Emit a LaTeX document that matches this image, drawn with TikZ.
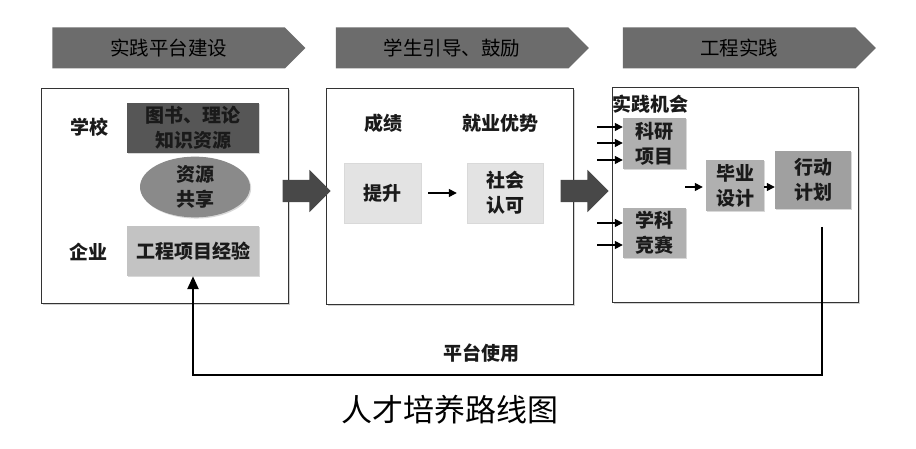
\documentclass[tikz,border=0pt]{standalone}
\usepackage{fontspec}
\setmainfont{Noto Sans CJK SC}
\usetikzlibrary{shapes.geometric,shapes.symbols,shapes.arrows,arrows.meta,shadows}
\definecolor{chevgray}{HTML}{6C6C6C}
\definecolor{darkbox}{HTML}{565656}
\definecolor{ellgray}{HTML}{8A8A8A}
\definecolor{lightbox}{HTML}{C3C3C3}
\definecolor{palebox}{HTML}{E3E3E3}
\definecolor{midbox}{HTML}{B0B0B0}
\definecolor{planbox}{HTML}{A0A0A0}
\definecolor{blockarr}{HTML}{484848}
\definecolor{txt}{HTML}{1A1A1A}
\begin{document}
\begin{tikzpicture}[x=1pt,y=-1pt,
  font=\fontsize{19}{25}\selectfont\bfseries, text=txt,
  chev/.style={signal, signal to=east, fill=chevgray, minimum width=253pt,
    minimum height=41pt, inner sep=0pt, font=\fontsize{19.5}{22}\selectfont, text=black},
  panel/.style={draw=black!80, line width=0.9pt, fill=white, anchor=north west,
    inner sep=0pt, drop shadow={shadow xshift=1.5pt, shadow yshift=-1.5pt, opacity=0.35}},
  box/.style={inner sep=0pt, align=center,
    drop shadow={shadow xshift=1.2pt, shadow yshift=-1.2pt, opacity=0.3}},
  lbl/.style={inner sep=0pt},
  bigarrow/.style={single arrow, fill=blockarr, minimum height=48pt, inner sep=0pt,
    inner ysep=11pt, single arrow head extend=10pt, single arrow tip angle=90},
  smallarr/.style={-{Triangle[length=8pt,width=8pt]}, line width=1.3pt, black},
  loopline/.style={-{Triangle[length=13pt,width=11pt]}, line width=2.4pt, black}
]
\useasboundingbox[fill=white] (0,0) rectangle (916,449);

% header chevrons
\node[chev] (h1) at (168.5,48) {实践平台建设};
\node[chev] (h2) at (452,48) {学生引导、鼓励};
\node[chev] (h3) at (739,48) {工程实践};

% panels
\node[panel, minimum width=247pt, minimum height=215pt] (p1) at (41,88) {};
\node[panel, minimum width=247pt, minimum height=216pt] (p2) at (326,88) {};
\node[panel, minimum width=246pt, minimum height=215pt] (p3) at (612,87) {};

% panel 1
\node[lbl] (school) at (89,127) {学校};
\node[lbl] (ent) at (88,252) {企业};
\node[box, fill=darkbox, minimum width=132pt, minimum height=50pt] (lib) at (193,128) {图书、理论\\知识资源};
\node[box, ellipse, fill=ellgray, minimum width=110pt, minimum height=59pt] (share) at (195,187) {资源\\共享};
\node[box, fill=lightbox, minimum width=132pt, minimum height=50pt] (exp) at (193,251) {工程项目经验};

% panel 2
\node[lbl] (score) at (383,123) {成绩};
\node[lbl] (job) at (500,123) {就业优势};
\node[box, fill=palebox, draw=black!15, minimum width=77pt, minimum height=60pt] (up) at (382.5,193) {提升};
\node[box, fill=palebox, draw=black!15, minimum width=76pt, minimum height=60pt] (soc) at (505,193) {社会\\认可};
\draw[smallarr, shorten <=7pt, shorten >=10pt] (up.east) -- (soc.west);

% panel 3
\node[lbl] (opp) at (650,104) {实践机会};
\node[box, fill=midbox, minimum width=63pt, minimum height=51pt] (ky) at (654.5,143.5) {科研\\项目};
\node[box, fill=midbox, minimum width=63pt, minimum height=50pt] (xk) at (654.5,233) {学科\\竞赛};
\node[box, fill=midbox, minimum width=58pt, minimum height=51pt] (by) at (735,185.5) {毕业\\设计};
\node[box, fill=planbox, minimum width=76pt, minimum height=58pt] (plan) at (813,180) {行动\\计划};

\coordinate (a1) at (597,127);
\coordinate (a2) at (597,143);
\coordinate (a3) at (597,160);
\coordinate (a4) at (597,223);
\coordinate (a5) at (597,245);
\draw[smallarr] (a1) -- (a1 -| ky.west);
\draw[smallarr] (a2) -- (a2 -| ky.west);
\draw[smallarr] (a3) -- (a3 -| ky.west);
\draw[smallarr] (a4) -- (a4 -| xk.west);
\draw[smallarr] (a5) -- (a5 -| xk.west);
\coordinate (a6) at (685,187);
\draw[smallarr, shorten >=3pt] (a6) -- (a6 -| by.west);
\draw[smallarr] (by.east |- 0,187) -- (plan.west |- 0,187);

% block arrows between panels
\node[bigarrow] (b1) at (301,191) {};
\node[bigarrow] (b2) at (579,191) {};

% feedback loop
\coordinate (ls) at (822,227);
\coordinate (lc) at (822,375);
\draw[loopline] (ls) -- (lc) -| (exp.south);
\node[lbl] (use) at (481,353) {平台使用};

% caption
\node[lbl, font=\fontsize{31}{34}\selectfont\mdseries, text=black] (cap) at (450,410) {人才培养路线图};
\end{tikzpicture}
\end{document}
